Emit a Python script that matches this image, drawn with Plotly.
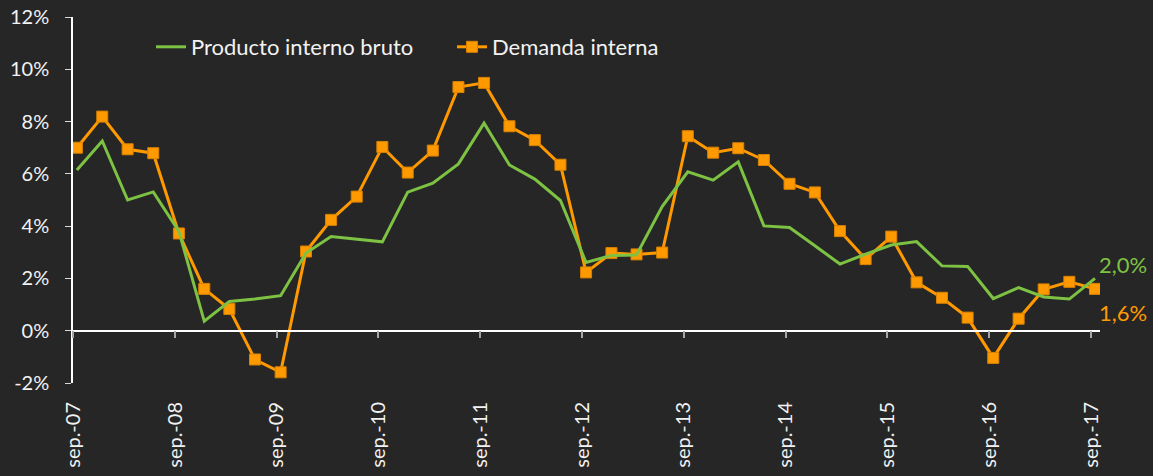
import plotly.graph_objects as go

# quarterly dates (mid-month), sep-07 .. sep-17
months = [9, 12, 3, 6]
dates = []
year = 2007
for i in range(41):
    m = months[i % 4]
    if i > 0 and m == 3:
        year += 1
    dates.append(f"{year}-{m:02d}-15")

pib = [6.15, 7.26, 5.0, 5.31, 3.8, 0.36, 1.12, 1.21, 1.34, 2.97,
       3.6, 3.5, 3.4, 5.3, 5.64, 6.38, 7.94, 6.34, 5.8, 4.98,
       2.61, 2.88, 2.9, 4.75, 6.08, 5.76, 6.46, 4.01, 3.95, 3.25,
       2.55, 2.93, 3.28, 3.41, 2.48, 2.46, 1.23, 1.65, 1.29, 1.21,
       2.0]
demanda = [7.0, 8.19, 6.94, 6.79, 3.72, 1.6, 0.83, -1.1, -1.59, 3.03,
           4.24, 5.13, 7.03, 6.05, 6.89, 9.32, 9.48, 7.82, 7.29, 6.35,
           2.23, 2.97, 2.92, 2.99, 7.44, 6.81, 6.98, 6.53, 5.62, 5.29,
           3.81, 2.74, 3.6, 1.85, 1.26, 0.5, -1.04, 0.46, 1.58, 1.87,
           1.6]

tick_dates = [f"{y}-09-01" for y in range(2007, 2018)]
tick_text = [f"sep.-{y % 100:02d}" for y in range(2007, 2018)]
y_ticks = [-2, 0, 2, 4, 6, 8, 10, 12]
y_text = [f"{v}%" for v in y_ticks]

GREEN = "#7DC243"
ORANGE = "#FF9900"
BG = "#262626"
FONT = "Lato"
TXT = "#F2F2F2"

fig = go.Figure()
fig.add_trace(go.Scatter(
    x=dates, y=pib, mode="lines", name="Producto interno bruto",
    line=dict(color=GREEN, width=3), xaxis="x2"))
fig.add_trace(go.Scatter(
    x=dates, y=demanda, mode="lines+markers", name="Demanda interna",
    line=dict(color=ORANGE, width=3),
    marker=dict(symbol="square", size=11, color=ORANGE,
                line=dict(color="#D98200", width=1))))

def fmt(v):
    return f"{v:.1f}%".replace(".", ",")

fig.add_annotation(x=dates[-1], y=pib[-1], text=fmt(pib[-1]), showarrow=False,
                   xanchor="left", yanchor="middle", xshift=2, yshift=14,
                   font=dict(family=FONT, size=22, color=GREEN))
fig.add_annotation(x=dates[-1], y=demanda[-1], text=fmt(demanda[-1]), showarrow=False,
                   xanchor="left", yanchor="middle", xshift=2, yshift=-24,
                   font=dict(family=FONT, size=22, color=ORANGE))

x_range = ["2007-09-01", "2017-10-03"]

fig.update_layout(
    width=1153, height=476,
    margin=dict(l=73, r=53, t=17, b=93, autoexpand=False),
    paper_bgcolor=BG, plot_bgcolor=BG,
    font=dict(family=FONT, size=19, color=TXT),
    showlegend=True,
    xaxis=dict(
        type="date", range=x_range, tickmode="array", automargin=False,
        tickvals=tick_dates, ticktext=tick_text, tickangle=-90,
        showgrid=False, zeroline=False, showline=False, ticks="",
        ticklabelstandoff=14, tickfont=dict(family=FONT, size=20, color=TXT),
    ),
    xaxis2=dict(
        type="date", range=x_range, overlaying="x", matches="x",
        anchor="free", position=2 / 14, side="bottom", automargin=False,
        tickmode="array", tickvals=tick_dates, showticklabels=False,
        showgrid=False, zeroline=False, showline=True, linecolor="#FFFFFF",
        linewidth=1.5, ticks="outside", ticklen=7, tickcolor="#A6A6A6",
        tickwidth=1.5,
    ),
    yaxis=dict(
        range=[-2, 12], tickmode="array", tickvals=y_ticks, ticktext=y_text,
        automargin=False,
        showgrid=False, zeroline=False, showline=True, linecolor="#FFFFFF",
        linewidth=1.5, ticks="outside", ticklen=6, tickcolor="#D9D9D9",
        ticklabelstandoff=12, tickfont=dict(family=FONT, size=20, color=TXT),
    ),
    legend=dict(x=(151 - 73) / 1027, y=(383 - 47) / 366,
                xanchor="left", yanchor="middle", orientation="h",
                bgcolor="rgba(0,0,0,0)", font=dict(family=FONT, size=22, color=TXT),
                itemwidth=30, entrywidth=256, entrywidthmode="pixels"),
)

fig.write_html(
    "out.html",
    config={"displayModeBar": False},
    post_script="document.body.style.margin='0';document.body.style.background='#262626';",
)
